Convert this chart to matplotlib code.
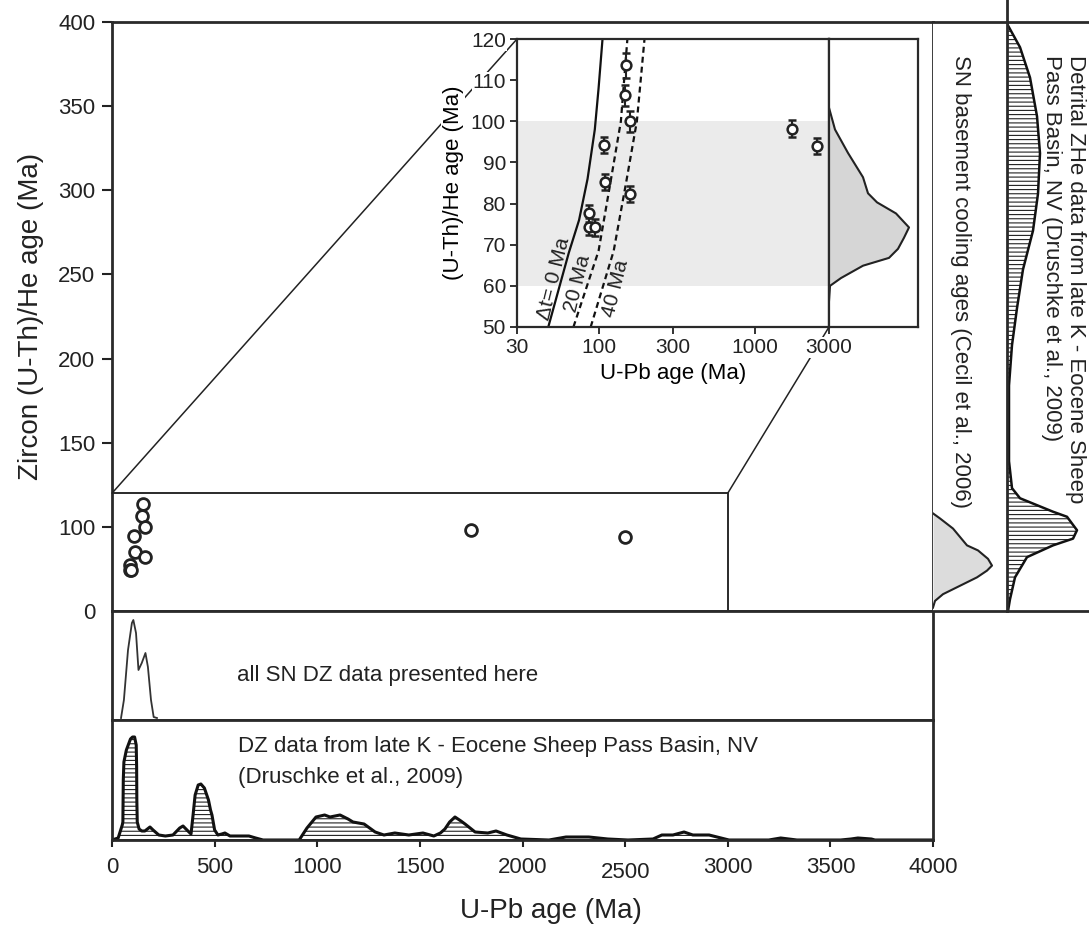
import numpy as np
import matplotlib.pyplot as plt
from matplotlib.patches import ConnectionPatch
from matplotlib.ticker import NullLocator

plt.rcParams['font.family'] = ['Liberation Sans', 'DejaVu Sans']
plt.rcParams['hatch.linewidth'] = 0.8
plt.rcParams['text.color'] = '#222222'
plt.rcParams['xtick.color'] = '#222222'
plt.rcParams['ytick.color'] = '#222222'

# double dated grains: U-Pb age vs ZHe age (Ma)
upb = [149, 147, 160, 109, 110, 160, 87, 87, 95, 1750, 2500]
zhe = [113.6, 106.3, 100.0, 94.3, 85.2, 82.3, 77.6, 74.4, 74.2, 98.2, 94.0]
zhe_err = [3.0, 2.5, 2.5, 2.0, 2.0, 2.0, 2.0, 2.0, 2.0, 2.0, 2.0]

# lag time lines in the inset
dt0_zhe = [50, 68, 76, 86, 98, 108, 120]
dt0_upb = [47.6, 64.4, 75, 85, 94.6, 100, 106]
dt20_zhe = [50, 68.5, 85, 100, 120]
dt20_upb = [69, 100, 119, 139, 153]
dt40_zhe = [50, 68.5, 85, 100, 120]
dt40_upb = [89, 125, 150, 176, 197]
band = (60, 100)

# SN basement cooling ages KDE (inset copy)
ik_age = [103.3, 98, 92.3, 86.4, 82.5, 80.3, 77.6, 74.2, 71.7, 69, 66.8, 64.9, 61.9, 60, 56.3]
ik_dens = [0, 6, 19, 34, 39, 48, 67, 80, 75, 69, 60, 34, 12, 1, 0]

# SN basement cooling ages KDE (right panel)
base_age = [108, 105, 99, 94, 89, 86, 81, 77, 74, 70, 65, 60, 56, 52]
base_dens = [0, 7, 20, 27, 34, 45, 55, 59, 54, 44, 27, 10, 2, 0]

# detrital ZHe, Sheep Pass Basin (right panel)
dzhe_age = [399, 385, 367, 344, 322, 298, 276, 253, 230, 208, 184, 162, 139, 123,
            117, 109, 106, 98, 93, 89, 82, 70, 57, 50]
dzhe_dens = [0, 13, 23, 30, 33, 31, 26, 16, 10, 5, 2, 2, 2, 5, 13, 46, 60, 70, 66,
             46, 20, 8, 3, 1]

# all SN DZ U-Pb KDE
sn_age = [44, 58, 78, 97, 104, 117, 129, 145, 163, 175, 190, 203, 219]
sn_dens = [2, 20, 70, 97, 100, 87, 50, 57, 67, 53, 20, 3, 2]

# Sheep Pass Basin DZ U-Pb KDE
sp_age = [0, 30, 50, 53, 55, 58, 70, 90, 100, 110, 118, 120, 121, 123, 132, 145, 160,
          185, 200, 228, 260, 297, 330, 346, 370, 385, 395, 405, 420, 433, 450, 470,
          480, 487, 500, 516, 535, 550, 575, 600, 667, 700, 736, 912, 950, 994, 1036,
          1062, 1111, 1150, 1174, 1228, 1282, 1325, 1378, 1446, 1515, 1568, 1600,
          1622, 1645, 1671, 1700, 1720, 1769, 1831, 1871, 1924, 1992, 2129, 2212,
          2323, 2416, 2514, 2636, 2679, 2733, 2787, 2830, 2909, 3006, 3200, 3258,
          3337, 3550, 3600, 3634, 3700, 3717, 4000]
sp_dens = [0, 2, 15, 18, 60, 78, 90, 101, 103, 103, 95, 73, 40, 18, 11, 9, 9,
           13, 10, 5, 4, 5, 12, 14, 9, 6, 25, 45, 55, 56, 52, 40,
           30, 25, 10, 5, 6, 7, 4, 4, 4, 2, 0, 0, 12, 23, 25,
           23, 25, 21, 18, 16, 8, 5, 7, 5, 7, 4, 7,
           11, 18, 23, 19, 16, 8, 7, 9, 5, 1, 0, 3,
           3, 1, 0, 1, 5, 5, 8, 5, 5, 0, 0, 2,
           0, 0, 1, 2, 1, 0, 0]

main_yticks = [50, 100, 150, 200, 250, 300, 350, 400]
main_ylabels = ['0', '100', '150', '200', '250', '300', '350', '400']
x_ticks = [0, 500, 1000, 1500, 2000, 2500, 3000, 3500, 4000]
in_xticks = [30, 100, 300, 1000, 3000]

W, H = 1089, 927
dark = '#2a2a2a'


def box(x0, y0, x1, y1):
    return [x0 / W, 1 - y1 / H, (x1 - x0) / W, (y1 - y0) / H]


def frame(ax, lw=2.0):
    for s in ax.spines.values():
        s.set_linewidth(lw)
        s.set_color(dark)


fig = plt.figure(figsize=(10.89, 9.27), dpi=100)
ax_main = fig.add_axes(box(112, 22, 933, 611))
ax_sn = fig.add_axes(box(112, 611, 933, 720))
ax_sp = fig.add_axes(box(112, 720, 933, 840))
ax_ra = fig.add_axes(box(933, 22, 1007, 611))
ax_rb = fig.add_axes(box(1007, 22, 1100, 611))
ax_in = fig.add_axes(box(517, 39, 829, 327))
ax_ik = fig.add_axes(box(829, 39, 918, 327))
ax_in.set_zorder(5)
ax_ik.set_zorder(5)

# main ZHe vs U-Pb plot
ax_main.set_xlim(0, 4000)
ax_main.set_ylim(50, 400)
ax_main.plot([0, in_xticks[-1], in_xticks[-1]], [120, 120, 50], color=dark, lw=1.4)
ax_main.plot(upb, zhe, 'o', ms=8.5, mfc='white', mec='#222222', mew=2.0, zorder=3)
ax_main.set_xticks([])
ax_main.set_yticks(main_yticks)
ax_main.set_yticklabels(main_ylabels)
ax_main.tick_params(axis='y', direction='out', length=7, width=1.5, labelsize=16, pad=5)
ax_main.yaxis.get_major_ticks()[0].tick1line.set_visible(False)
frame(ax_main)
fig.text(31 / W, 1 - 316 / H, 'Zircon (U-Th)/He age (Ma)', rotation=90,
         ha='center', va='center', fontsize=20)

# inset
ax_in.set_xscale('log')
ax_in.set_xlim(30, 3000)
ax_in.set_ylim(50, 120)
ax_in.axhspan(band[0], band[1], color='#ebebeb', lw=0, zorder=0)
ax_in.plot(dt0_upb, dt0_zhe, color='#111111', lw=1.6)
ax_in.plot(dt20_upb, dt20_zhe, color='#111111', lw=1.6, ls=(0, (2.7, 1.8)))
ax_in.plot(dt40_upb, dt40_zhe, color='#111111', lw=1.6, ls=(0, (2.7, 1.8)))
ax_in.errorbar(upb, zhe, yerr=zhe_err, fmt='o', ms=7, mfc='white', mec='#222222',
               mew=1.8, ecolor='#222222', elinewidth=1.5, capsize=3, capthick=1.5, zorder=4)
ax_in.text(52, 61.7, '\u0394t= 0 Ma', rotation=76, ha='center', va='center', fontsize=15)
ax_in.text(73, 60.5, '20 Ma', rotation=76, ha='center', va='center', fontsize=15)
ax_in.text(129, 59.3, '40 Ma', rotation=76, ha='center', va='center', fontsize=15)
ax_in.set_xticks(in_xticks)
ax_in.set_xticklabels([str(v) for v in in_xticks])
ax_in.xaxis.set_minor_locator(NullLocator())
ax_in.set_yticks(range(50, 121, 10))
ax_in.tick_params(direction='out', length=5, width=1.3, labelsize=15, pad=3)
ax_in.set_xlabel('U-Pb age (Ma)', fontsize=16, labelpad=4)
ax_in.set_ylabel('(U-Th)/He age (Ma)', fontsize=16, labelpad=5,
                 bbox=dict(fc='white', ec='none', pad=1))
for t in ax_in.get_yticklabels() + ax_in.get_xticklabels():
    t.set_bbox(dict(fc='white', ec='none', pad=0.5))
frame(ax_in, 1.6)

ax_ik.set_ylim(50, 120)
ax_ik.set_xlim(0, 89)
ax_ik.fill_betweenx(ik_age, 0, ik_dens, color='#d6d6d6', lw=0)
ax_ik.plot(ik_dens, ik_age, color='#222222', lw=1.5)
ax_ik.set_xticks([])
ax_ik.set_yticks([])
frame(ax_ik, 1.6)

# zoom lines from the box to the inset
for a, b in [((0, 120), (30, 120)), ((in_xticks[-1], 120), (3000, 50))]:
    con = ConnectionPatch(xyA=a, coordsA=ax_main.transData, xyB=b, coordsB=ax_in.transData,
                          color='#222222', lw=1.1, zorder=2)
    fig.add_artist(con)

# right panels
ax_ra.set_ylim(50, 400)
ax_ra.set_xlim(0, 74)
ax_ra.fill_betweenx(base_age, 0, base_dens, color='#dcdcdc', lw=0)
ax_ra.plot(base_dens, base_age, color='#222222', lw=1.5)
ax_ra.text(0.365, 0.944, 'SN basement cooling ages (Cecil et al., 2006)', rotation=270,
           ha='center', va='top', fontsize=16, transform=ax_ra.transAxes)
ax_ra.set_xticks([])
ax_ra.set_yticks([])
frame(ax_ra)
ax_ra.spines['left'].set_visible(False)
ax_ra.spines['right'].set_visible(False)

ax_rb.set_ylim(50, 400)
ax_rb.set_xlim(0, 93)
ax_rb.fill_betweenx(dzhe_age, 0, dzhe_dens, facecolor='white', edgecolor='#222222',
                    hatch='----', lw=0)
ax_rb.plot(dzhe_dens, dzhe_age, color='#111111', lw=1.8)
ax_rb.plot([0, 0], [1, 1.038], transform=ax_rb.transAxes, clip_on=False, color=dark, lw=2.0)
ax_rb.text(0.607, 0.944, 'Detrital ZHe data from late K - Eocene Sheep\n'
           'Pass Basin, NV (Druschke et al., 2009)', rotation=270, ha='center', va='top',
           multialignment='left', fontsize=16, transform=ax_rb.transAxes)
ax_rb.set_xticks([])
ax_rb.set_yticks([])
frame(ax_rb)
ax_rb.spines['right'].set_visible(False)

# all SN DZ data
ax_sn.set_xlim(0, 4000)
ax_sn.set_ylim(0, 109)
ax_sn.plot(sn_age, sn_dens, color='#333333', lw=1.3)
ax_sn.text(0.152, 0.404, 'all SN DZ data presented here', fontsize=16,
           va='center', transform=ax_sn.transAxes)
ax_sn.set_xticks([])
ax_sn.set_yticks([])
frame(ax_sn)

# Sheep Pass Basin DZ
ax_sp.set_xlim(0, 4000)
ax_sp.set_ylim(0, 120)
ax_sp.fill_between(sp_age, 0, sp_dens, facecolor='white', edgecolor='#222222',
                   hatch='----', lw=0)
ax_sp.plot(sp_age, sp_dens, color='#111111', lw=2.2)
ax_sp.text(0.153, 0.783, 'DZ data from late K - Eocene Sheep Pass Basin, NV',
           fontsize=16, va='center', transform=ax_sp.transAxes)
ax_sp.text(0.153, 0.517, '(Druschke et al., 2009)', fontsize=16, va='center',
           transform=ax_sp.transAxes)
ax_sp.set_yticks([])
ax_sp.set_xticks(x_ticks)
ax_sp.tick_params(axis='x', direction='out', length=5, width=1.5, labelsize=16, pad=7)
ax_sp.xaxis.get_major_ticks()[5].set_pad(11)
frame(ax_sp)
fig.text(551 / W, 1 - 911 / H, 'U-Pb age (Ma)', ha='center', va='center', fontsize=20)

fig.savefig('out.png', dpi=100)
